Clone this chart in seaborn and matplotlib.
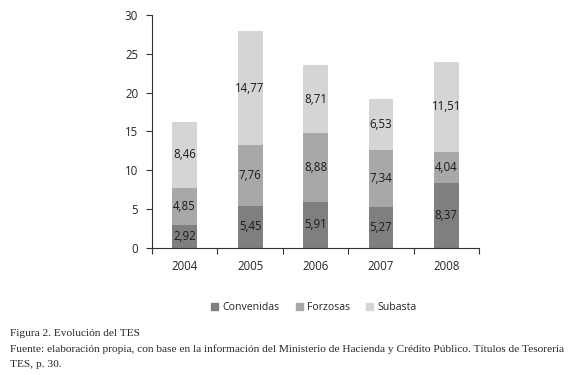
import matplotlib
matplotlib.use("Agg")
import matplotlib.pyplot as plt
import seaborn as sns
import numpy as np
import pandas as pd
from matplotlib.patches import Patch

years = ["2004", "2005", "2006", "2007", "2008"]
convenidas = [2.92, 5.45, 5.91, 5.27, 8.37]
forzosas = [4.85, 7.76, 8.88, 7.34, 4.04]
subasta = [8.46, 14.77, 8.71, 6.53, 11.51]
series_names = ["Convenidas", "Forzosas", "Subasta"]
colors = ["#7f7f81", "#a7a8aa", "#d4d5d7"]

df = pd.DataFrame({"year": years, "Convenidas": convenidas,
                   "Forzosas": forzosas, "Subasta": subasta})

sns.set_style("white")
plt.rcParams["font.family"] = ["Open Sans", "DejaVu Sans"]

fig = plt.figure(figsize=(5.8, 3.75), dpi=100)
ax = fig.add_axes([0.262, 0.339, 0.564, 0.621])

bottom = np.zeros(len(years))
for name, col in zip(series_names, colors):
    sns.barplot(data=df, x="year", y=name, color=col, width=0.38,
                bottom=bottom, ax=ax, saturation=1, linewidth=0)
    vals = df[name].to_numpy()
    for i, v in enumerate(vals):
        ax.text(i, bottom[i] + v / 2, f"{v:.2f}".replace(".", ","),
                ha="center", va="center", fontsize=8.3, color="#1a1a1a")
    bottom = bottom + vals

ax.set_xlim(-0.5, len(years) - 0.5)
ax.set_ylim(0, 30)
ax.set_yticks(range(0, 31, 5))
ax.set_xlabel("")
ax.set_ylabel("")
ax.set_xticks(np.arange(-0.5, len(years)), minor=True)
ax.tick_params(axis="x", which="major", length=0, pad=9, labelsize=8.3)
ax.tick_params(axis="x", which="minor", length=4, width=0.8, color="#333333", direction="out", bottom=True)
ax.tick_params(axis="y", length=4, width=0.8, color="#333333", direction="out", left=True, labelsize=8.3, pad=6)
for s in ["top", "right"]:
    ax.spines[s].set_visible(False)
for s in ["left", "bottom"]:
    ax.spines[s].set_color("#333333")
    ax.spines[s].set_linewidth(0.8)

handles = [Patch(color=c, label=n) for n, c in zip(series_names, colors)]
fig.legend(handles=handles, loc="center", bbox_to_anchor=(0.541, 0.179), ncol=3,
           frameon=False, fontsize=7.6, handlelength=0.67, handleheight=0.67,
           columnspacing=1.55, handletextpad=0.4)

serif = ["Liberation Serif", "DejaVu Serif"]
fig.text(0.017, 0.112, "Figura 2. Evolución del TES", family=serif, fontsize=8.2, va="center")
fig.text(0.017, 0.069, "Fuente: elaboración propia, con base en la información del Ministerio de Hacienda y Crédito Público. Títulos de Tesorería",
         family=serif, fontsize=8.2, va="center")
fig.text(0.017, 0.029, "TES, p. 30.", family=serif, fontsize=8.2, va="center")

fig.savefig("out.png", dpi=100)
